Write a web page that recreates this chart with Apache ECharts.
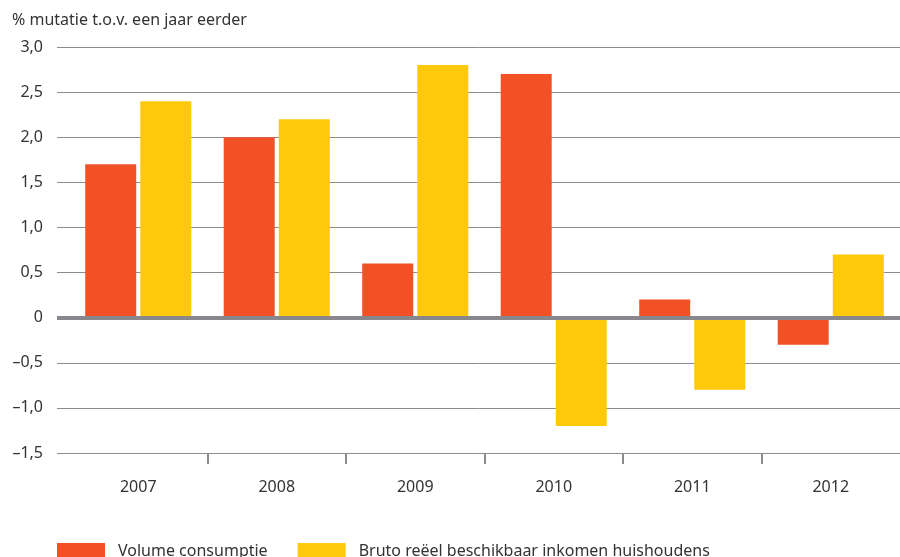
<!DOCTYPE html>
<html>
<head>
<meta charset="utf-8">
<script src="https://cdn.jsdelivr.net/npm/echarts@6/dist/echarts.min.js"></script>
<style>
  html, body { margin: 0; padding: 0; background: #fff; }
  #chart { width: 900px; height: 557px; }
</style>
</head>
<body>
<div id="chart"></div>
<script>
// jaren en reeksen
var years = ['2007', '2008', '2009', '2010', '2011', '2012'];
var volumeConsumptie = [1.7, 2.0, 0.6, 2.7, 0.2, -0.3];
var brutoInkomen = [2.4, 2.2, 2.8, -1.2, -0.8, 0.7];
var seriesNames = ['Volume consumptie', 'Bruto reëel beschikbaar inkomen huishoudens'];

var font = 'Noto Sans';
var textColor = '#333';
var lineColor = '#8c8c8c';

function fmt(v) {
  if (v === 0) return '0';
  var s = Math.abs(v).toFixed(1).replace('.', ',');
  return v < 0 ? '\u2013' + s : s;
}

var myChart = echarts.init(document.getElementById('chart'));

var option = {
  animation: false,
  title: {
    text: '% mutatie t.o.v. een jaar eerder',
    left: 7,
    top: 7,
    textStyle: { fontFamily: font, fontSize: 16, fontWeight: 'normal', color: textColor }
  },
  legend: {
    left: 52,
    top: 538,
    itemWidth: 48,
    itemHeight: 17,
    itemGap: 30,
    icon: 'rect',
    data: seriesNames,
    textStyle: { fontFamily: font, fontSize: 16, color: textColor, padding: [0, 0, 0, 8] }
  },
  grid: [
    // raster met y-as labels
    { left: 57, right: 0, top: 47, height: 406 },
    // grid voor de staven
    { left: 69, right: 0, top: 47, height: 406 }
  ],
  xAxis: [
    { gridIndex: 0, type: 'category', data: [''], show: false },
    {
      gridIndex: 1,
      type: 'category',
      data: years,
      axisLine: { show: false },
      axisTick: { show: false },
      axisLabel: { margin: 26, fontFamily: font, fontSize: 16, color: textColor }
    },
    {
      gridIndex: 1,
      type: 'value',
      min: 0,
      max: 6,
      interval: 1,
      position: 'bottom',
      axisLine: { show: false },
      splitLine: { show: false },
      axisLabel: { show: false },
      axisTick: {
        show: true,
        length: 11,
        customValues: [1, 2, 3, 4, 5],
        lineStyle: { color: lineColor, width: 2 }
      }
    }
  ],
  yAxis: [
    {
      gridIndex: 0,
      type: 'value',
      min: -1.5,
      max: 3,
      interval: 0.5,
      axisLine: { show: false },
      axisTick: { show: false },
      splitLine: { lineStyle: { color: lineColor, width: 1 } },
      axisLabel: {
        margin: 14,
        fontFamily: font,
        fontSize: 16,
        color: textColor,
        formatter: fmt
      }
    },
    {
      gridIndex: 1,
      type: 'value',
      min: -1.5,
      max: 3,
      interval: 0.5,
      show: false
    }
  ],
  series: [
    {
      name: seriesNames[0],
      type: 'bar',
      xAxisIndex: 1,
      yAxisIndex: 1,
      barWidth: 51,
      barGap: '8%',
      itemStyle: { color: '#F15124' },
      data: volumeConsumptie
    },
    {
      name: seriesNames[1],
      type: 'bar',
      xAxisIndex: 1,
      yAxisIndex: 1,
      barWidth: 51,
      barGap: '8%',
      itemStyle: { color: '#FFC90B' },
      data: brutoInkomen
    },
    {
      // nullijn
      type: 'line',
      xAxisIndex: 0,
      yAxisIndex: 0,
      data: [],
      z: 5,
      markLine: {
        silent: true,
        symbol: 'none',
        label: { show: false },
        lineStyle: { color: '#88888c', width: 4, type: 'solid' },
        data: [{ yAxis: 0 }]
      }
    }
  ]
};

myChart.setOption(option);
</script>
</body>
</html>
